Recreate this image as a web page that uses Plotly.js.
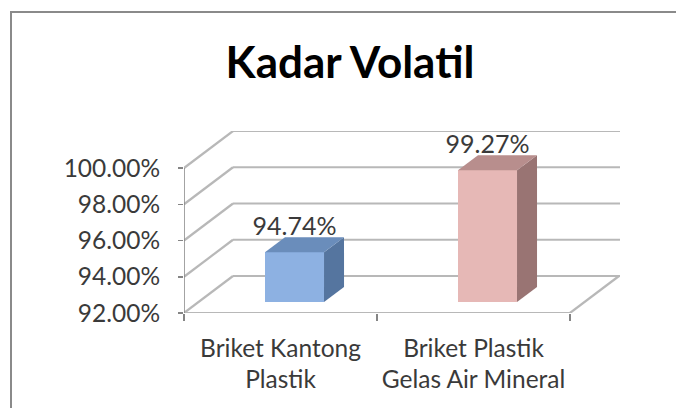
<!DOCTYPE html>
<html>
<head>
<meta charset="utf-8">
<script src="https://cdn.plot.ly/plotly-3.0.1.min.js"></script>
<style>html,body{margin:0;padding:0;background:#fff}#c{width:676px;height:408px}</style>
</head>
<body>
<div id="c"></div>
<script>
const chartTitle = 'Kadar Volatil';
const categories = ['Briket Kantong<br>Plastik', 'Briket Plastik<br>Gelas Air Mineral'];
const values = [94.74, 99.27];
const yTicks = [92, 94, 96, 98, 100];
const frontColors = ['#8DB1E2', '#E6B8B6'];
const topColors = ['#6A8DBB', '#B88E8D'];
const sideColors = ['#55759F', '#997473'];
const barCentres = [0.5, 1.5];
const barWidth = 0.306;

const W = 676, H = 408;
const pxX = 193, pxY = 18.125;          // pixels per x unit and per percentage point
const left = 184, base = 313, wallDx = 49, wallDy = 37;
const xMax = (620 - left) / pxX, yMax = 92 + (base - 131) / pxY;
const wdx = wallDx / pxX, wdy = wallDy / pxY;
const bdx = 20 / pxX, bdy = 15 / pxY;
const gridCol = '#B8B8B8', axisCol = '#858585', textCol = '#3A3A3A', font = 'Lato, "Noto Sans", sans-serif';

function seg(list) {
  const x = [], y = [];
  list.forEach(s => { x.push(s[0], s[2], null); y.push(s[1], s[3], null); });
  return {x, y};
}
const gridSegs = [];
yTicks.forEach(t => {
  gridSegs.push([0, t, wdx, t + wdy]);
  gridSegs.push([wdx, t + wdy, xMax, t + wdy]);
});
gridSegs.push([0, 92, 2, 92]);
gridSegs.push([2, 92, 2 + wdx, 92 + wdy]);
const grid = seg(gridSegs);
const axis = seg([[0, 92, 0, 100]]);

const traces = [
  {type: 'scatter', mode: 'lines', x: grid.x, y: grid.y, xaxis: 'x', yaxis: 'y',
   line: {color: gridCol, width: 2.2}, hoverinfo: 'skip', showlegend: false},
  {type: 'scatter', mode: 'lines', x: axis.x, y: axis.y, xaxis: 'x', yaxis: 'y',
   line: {color: axisCol, width: 1.5}, hoverinfo: 'skip', showlegend: false}
];
values.forEach((v, i) => {
  const l = barCentres[i] - barWidth / 2, r = barCentres[i] + barWidth / 2;
  traces.push({type: 'scatter', mode: 'lines', fill: 'toself', fillcolor: sideColors[i],
    x: [r, r + bdx, r + bdx, r, r], y: [92, 92 + bdy, v + bdy, v, 92],
    line: {width: 0, color: sideColors[i]}, xaxis: 'x2', yaxis: 'y2', hoverinfo: 'skip', showlegend: false});
  traces.push({type: 'scatter', mode: 'lines', fill: 'toself', fillcolor: topColors[i],
    x: [l, l + bdx, r + bdx, r, l], y: [v, v + bdy, v + bdy, v, v],
    line: {width: 0, color: topColors[i]}, xaxis: 'x2', yaxis: 'y2', hoverinfo: 'skip', showlegend: false});
});
traces.push({type: 'bar', x: barCentres, y: values.map(v => v - 92), base: 92, width: barWidth,
  marker: {color: frontColors, line: {width: 0}}, xaxis: 'x2', yaxis: 'y2', hoverinfo: 'skip', showlegend: false});
traces.push({type: 'scatter', mode: 'text', x: barCentres, y: values.map(v => v + 1.32),
  text: values.map(v => v.toFixed(2) + '%'), textposition: 'middle center',
  textfont: {family: font, size: 25, color: textCol}, xaxis: 'x2', yaxis: 'y2',
  cliponaxis: false, hoverinfo: 'skip', showlegend: false});

const wrap = s => s.split('<br>').map(p => '<span style="font-size:24.5px">' + p + '</span>').join('<br>');

const layout = {
  width: W, height: H, margin: {l: 0, r: 0, t: 0, b: 0, pad: 0},
  paper_bgcolor: '#fff', plot_bgcolor: 'rgba(0,0,0,0)', showlegend: false, autosize: false,
  bargap: 0,
  title: {text: chartTitle, x: 350 / W, xanchor: 'center', y: 1 - 63 / H, yanchor: 'middle',
    font: {family: font, size: 44, color: '#000', weight: 700}},
  xaxis: {domain: [left / W, 620 / W], range: [0, xMax], anchor: 'y', showgrid: false, zeroline: false,
    showline: false, tickmode: 'array', tickvals: barCentres, ticktext: categories.map(wrap),
    ticks: '', tickfont: {family: font, size: 24, color: textCol}, ticklabelstandoff: 19,
    minor: {tickmode: 'array', tickvals: [0, 1, 2], ticks: 'outside', ticklen: 7, tickwidth: 1.5, tickcolor: axisCol, showgrid: false}},
  yaxis: {domain: [1 - base / H, 1 - 131 / H], range: [92, yMax], anchor: 'x', showgrid: false, zeroline: false,
    showline: false, tickmode: 'array', tickvals: yTicks, ticktext: yTicks.map(t => t.toFixed(2) + '%'),
    ticks: 'outside', ticklen: 5, tickwidth: 1.5, tickcolor: axisCol, ticklabelstandoff: 13,
    tickfont: {family: font, size: 24.5, color: textCol}},
  xaxis2: {domain: [(left + 14) / W, (620 + 14) / W], range: [0, xMax], anchor: 'y2', visible: false},
  yaxis2: {domain: [1 - (base - 11) / H, 1 - (131 - 11) / H], range: [92, yMax], anchor: 'x2', visible: false},
  shapes: [
    {type: 'line', xref: 'paper', yref: 'paper', x0: 11 / W, x1: 11 / W, y0: 0, y1: 1 - 12 / H, line: {color: '#8A8A8A', width: 2}},
    {type: 'line', xref: 'paper', yref: 'paper', x0: 10 / W, x1: 1, y0: 1 - 12 / H, y1: 1 - 12 / H, line: {color: '#8A8A8A', width: 2}}
  ]
};
Plotly.newPlot('c', traces, layout, {displayModeBar: false, staticPlot: true});
</script>
</body>
</html>
